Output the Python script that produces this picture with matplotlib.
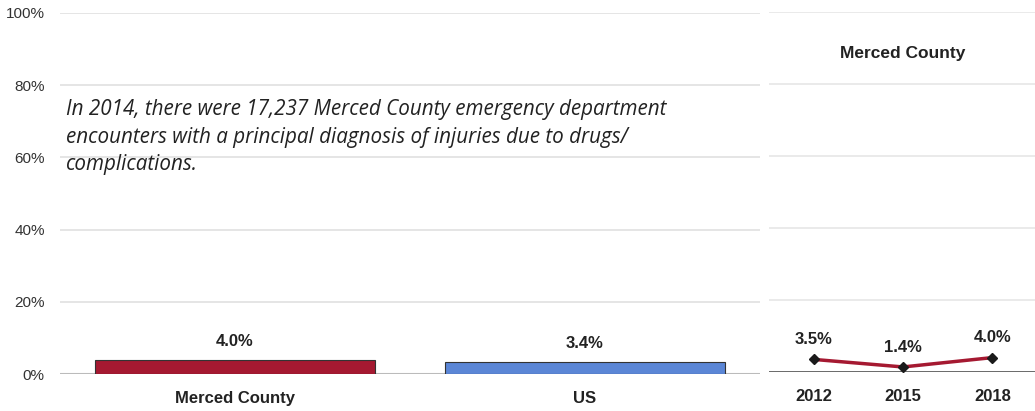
import matplotlib.pyplot as plt
from matplotlib.ticker import FuncFormatter

# datos
bar_labels = ['Merced County', 'US']
bar_values = [4.0, 3.4]
bar_colors = ['#a51931', '#5b86d6']

years = ['2012', '2015', '2018']
trend_values = [3.5, 1.4, 4.0]

note = ('In 2014, there were 17,237 Merced County emergency department\n'
        'encounters with a principal diagnosis of injuries due to drugs/\n'
        'complications.')

narrow = ['Liberation Sans Narrow', 'Liberation Sans', 'DejaVu Sans']

fig = plt.figure(figsize=(10.35, 4.11), dpi=100)

# panel de barras
ax = fig.add_axes([60/1035, 37/411, 700/1035, 361/411])
x = range(len(bar_values))
ax.bar(x, bar_values, width=0.8, color=bar_colors, edgecolor='#333333', linewidth=0.8, zorder=3)
for i, v in enumerate(bar_values):
    ax.text(i, v + 3.0, f'{v:.1f}%', ha='center', va='bottom', fontsize=12,
            fontweight='bold', family=narrow, color='#222222')
ax.set_xlim(-0.5, 1.5)
ax.set_ylim(0, 100)
ax.set_yticks(range(0, 101, 20))
ax.yaxis.set_major_formatter(FuncFormatter(lambda v, p: f'{v:.0f}%'))
ax.set_xticks(list(x))
ax.set_xticklabels(bar_labels, fontsize=12, fontweight='bold', family=narrow, color='#222222')
for t in ax.get_yticklabels():
    t.set_family(narrow)
    t.set_fontsize(11)
    t.set_color('#333333')
ax.tick_params(axis='both', length=0)
ax.tick_params(axis='x', pad=12)
ax.tick_params(axis='y', pad=11)
ax.grid(axis='y', color='#e0e0e0', linewidth=1.2, zorder=0)
for s in ax.spines.values():
    s.set_visible(False)
ax.axhline(0, color='#bbbbbb', linewidth=1.5, zorder=2)
ax.text(0.009, 0.762, note, transform=ax.transAxes, ha='left', va='top', fontsize=14.9,
        style='italic', family=['Open Sans', 'DejaVu Sans'], color='#222222',
        linespacing=1.42, zorder=4)

# panel de tendencia
ax2 = fig.add_axes([769/1035, 39/411, 268/1035, 360/411])
xi = range(len(trend_values))
ax2.plot(xi, trend_values, color='#a51931', linewidth=2.5, zorder=3)
ax2.plot(xi, trend_values, linestyle='none', marker='D', markersize=5, color='#1a1a1a', zorder=4)
for i, v in enumerate(trend_values):
    ax2.text(i, v + 3.4, f'{v:.1f}%', ha='center', va='bottom', fontsize=12,
             fontweight='bold', family=narrow, color='#222222')
ax2.set_xlim(-0.5, 2.5)
ax2.set_ylim(0, 100)
ax2.set_yticks(range(0, 101, 20))
ax2.set_yticklabels([])
ax2.set_xticks(list(xi))
ax2.set_xticklabels(years, fontsize=12, fontweight='bold', family=narrow, color='#222222')
ax2.tick_params(axis='both', length=0)
ax2.tick_params(axis='x', pad=12)
ax2.grid(axis='y', color='#e6e6e6', linewidth=1.2, zorder=0)
for s in ax2.spines.values():
    s.set_visible(False)
ax2.axhline(0, color='#555555', linewidth=1.2, zorder=2)
ax2.text(0.5, 0.885, 'Merced County', transform=ax2.transAxes, ha='center', va='center',
         fontsize=12.5, fontweight='bold', family=narrow, color='#222222')

fig.savefig('out.png', dpi=100)
